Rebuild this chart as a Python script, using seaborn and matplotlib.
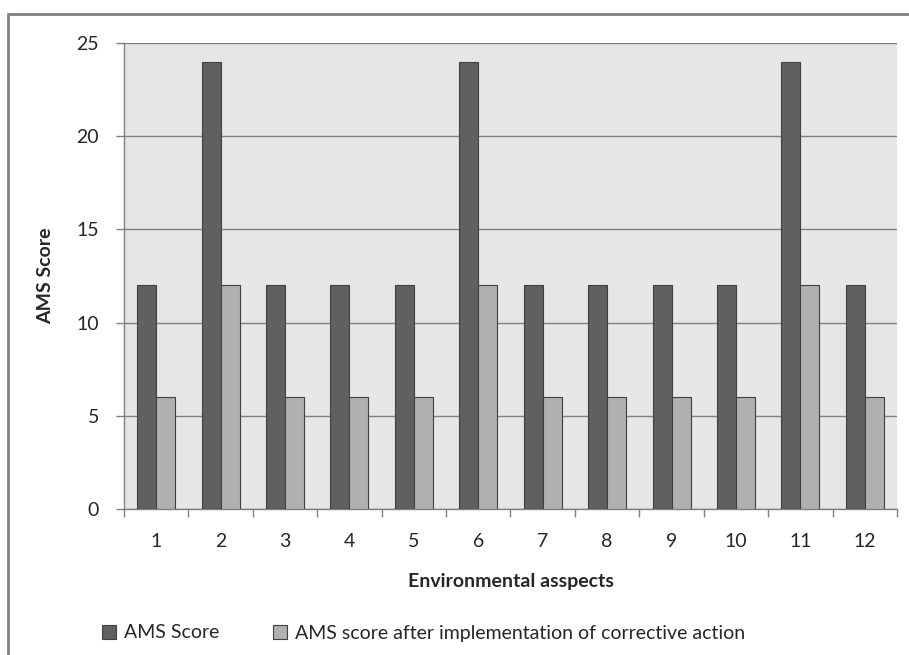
import numpy as np
import pandas as pd
import matplotlib
matplotlib.use("Agg")
import matplotlib.pyplot as plt
import seaborn as sns
from matplotlib.patches import Rectangle

# data
aspects = ["1", "2", "3", "4", "5", "6", "7", "8", "9", "10", "11", "12"]
ams_score = [12, 24, 12, 12, 12, 24, 12, 12, 12, 12, 24, 12]
ams_after = [6, 12, 6, 6, 6, 12, 6, 6, 6, 6, 12, 6]
series_names = ["AMS Score", "AMS score after implementation of corrective action"]

df = pd.DataFrame({
    "aspect": aspects * 2,
    "score": ams_score + ams_after,
    "series": [series_names[0]] * len(aspects) + [series_names[1]] * len(aspects),
})

sns.set_theme(style="white")
plt.rcParams["font.family"] = ["Lato", "DejaVu Sans"]

fig = plt.figure(figsize=(9.09, 6.55), dpi=100)
ax = fig.add_axes([124 / 909, 1 - 509 / 655, (897 - 124) / 909, (509 - 43) / 655])
ax.set_facecolor("#e6e6e6")

sns.barplot(data=df, x="aspect", y="score", hue="series", order=aspects,
            palette=["#606060", "#b0b0b0"], width=0.59, gap=0,
            edgecolor="#404040", linewidth=0.8, saturation=1, ax=ax, zorder=3)

ax.set_ylim(0, 25)
ax.set_xlim(-0.5, 11.5)
ax.set_yticks([0, 5, 10, 15, 20, 25])
ax.yaxis.grid(True, color="#808080", linewidth=1.0, zorder=0)
ax.set_axisbelow(True)

for s in ["top", "right"]:
    ax.spines[s].set_visible(False)
for s in ["left", "bottom"]:
    ax.spines[s].set_color("#808080")
    ax.spines[s].set_linewidth(1.0)

ax.tick_params(axis="y", direction="out", length=6, width=1, color="#808080",
               pad=12, labelsize=14, left=True)
ax.tick_params(axis="x", which="major", length=0, pad=17, labelsize=14)
ax.set_xticks(np.arange(-0.5, 12, 1), minor=True)
ax.tick_params(axis="x", which="minor", direction="out", length=6, width=1,
               color="#808080", bottom=True)

ax.set_xlabel("Environmental asspects", fontsize=14, fontweight="bold", labelpad=17)
ax.set_ylabel("AMS Score", fontsize=14, fontweight="bold", labelpad=16)

ax.legend_.remove()
handles, labels = ax.get_legend_handles_labels()
fig.legend(handles, labels, loc="center", bbox_to_anchor=(0.466, 1 - 633 / 655),
           ncol=2, frameon=False, fontsize=14, handlelength=0.7, handleheight=0.7,
           handletextpad=0.4, columnspacing=2.8)

# outer chart frame
fig.patches.append(Rectangle((8 / 909, -0.1), 1.2, 1 - 14 / 655 + 0.1,
                             transform=fig.transFigure, fill=False,
                             edgecolor="#808080", linewidth=2))

fig.savefig("out.png", dpi=100)
